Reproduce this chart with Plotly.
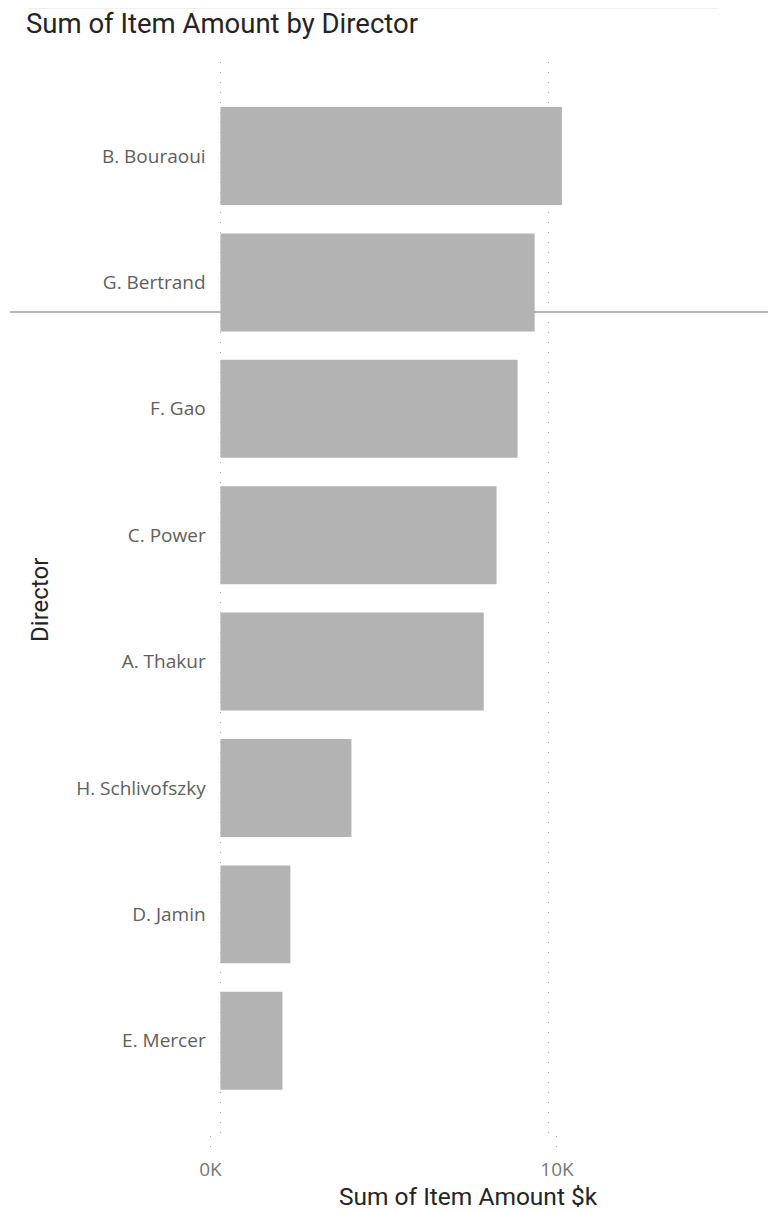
import plotly.graph_objects as go

directors = ["B. Bouraoui", "G. Bertrand", "F. Gao", "C. Power", "A. Thakur",
             "H. Schlivofszky", "D. Jamin", "E. Mercer"]
amounts = [10400, 9570, 9050, 8410, 8020, 3990, 2130, 1890]
tick_vals = [0, 10000]
tick_text = ["0K", "10K"]

OFF = 8  # page body margin
W, H = 776 - OFF, 1212 - OFF
BAR = "#b3b3b3"
GRID = "#a8a8a8"

fig = go.Figure()
fig.add_trace(go.Bar(x=amounts, y=directors, orientation="h",
                     marker=dict(color=BAR, line=dict(width=0)),
                     xaxis="x", yaxis="y", hoverinfo="x+y"))
fig.add_trace(go.Scatter(x=[], y=[], xaxis="x2", yaxis="y2", mode="markers",
                         showlegend=False, hoverinfo="skip"))

def px(v):
    return (v - OFF) / W

def py(v):
    return 1 - (v - OFF) / H

fig.update_layout(
    width=W, height=H,
    margin=dict(l=0, r=0, t=0, b=0),
    paper_bgcolor="white", plot_bgcolor="rgba(0,0,0,0)",
    showlegend=False, bargap=0.225,
    xaxis=dict(domain=[px(216), 1], range=[-90, (776 - 221) / 0.0328],
               tickvals=tick_vals, showticklabels=False,
               showgrid=True, gridcolor=GRID, griddash="1px,9px", gridwidth=1,
               zeroline=False, showline=False, anchor="y"),
    yaxis=dict(domain=[py(1133), py(62)], range=[7.73, -0.744],
               type="category", categoryorder="array", categoryarray=directors,
               showgrid=False, zeroline=False, showline=False,
               ticks="outside", ticklen=7, tickcolor="rgba(0,0,0,0)",
               tickfont=dict(family="Open Sans", size=19, color="#605e5c"),
               anchor="x"),
    xaxis2=dict(domain=[px(200), 1], range=[-260, (776 - 208) / 0.0348],
                tickvals=tick_vals, ticktext=tick_text,
                showgrid=True, gridcolor=GRID, griddash="1px,9px", gridwidth=1,
                zeroline=False, showline=False, anchor="y2",
                ticks="outside", ticklen=2, tickcolor="rgba(0,0,0,0)",
                tickfont=dict(family="Open Sans", size=19, color="#777777")),
    yaxis2=dict(domain=[py(1150), py(1136)], range=[0, 1],
                showgrid=False, zeroline=False, showline=False,
                showticklabels=False, anchor="x2"),
)

fig.add_shape(type="line", xref="paper", yref="paper",
              x0=0, x1=1, y0=py(312), y1=py(312),
              line=dict(color="#707070", width=1), layer="below")
fig.add_shape(type="line", xref="paper", yref="paper",
              x0=px(26), x1=px(717), y0=py(8.5), y1=py(8.5),
              line=dict(color="#efefef", width=1), layer="below")

fig.add_annotation(text="Sum of Item Amount by Director", xref="paper", yref="paper",
                   x=px(23), y=py(23), xanchor="left", yanchor="middle", showarrow=False,
                   borderpad=0,
                   font=dict(family="Roboto", size=27.5, color="#252423"))
fig.add_annotation(text="Director", xref="paper", yref="paper",
                   x=px(38), y=py(600), xanchor="center", yanchor="middle", showarrow=False,
                   textangle=-90, borderpad=0,
                   font=dict(family="Roboto", size=24, color="#252423"))
fig.add_annotation(text="Sum of Item Amount $k", xref="paper", yref="paper",
                   x=px(468), y=py(1196), xanchor="center", yanchor="middle", showarrow=False,
                   borderpad=0,
                   font=dict(family="Roboto", size=24.5, color="#252423"))

fig.write_html("out.html")
